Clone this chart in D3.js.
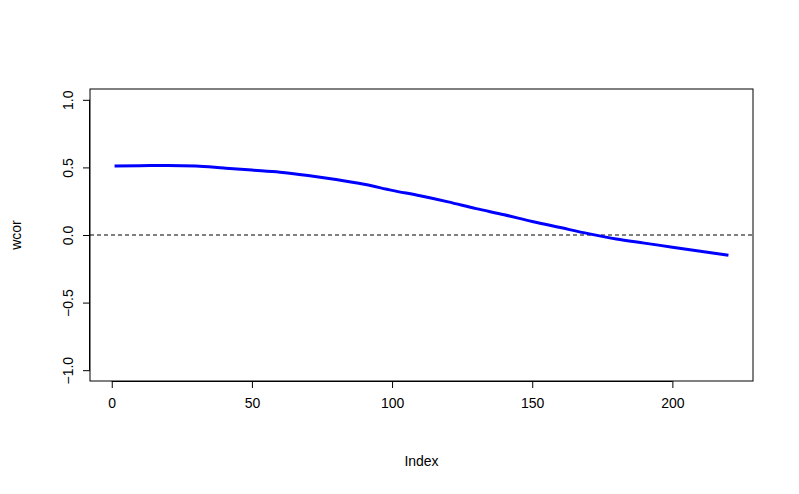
<!DOCTYPE html>
<html>
<head>
<meta charset="utf-8">
<script src="https://cdn.jsdelivr.net/npm/d3@7"></script>
<style>
  body { margin: 0; background: #fff; }
  text { font-family: "Liberation Sans", Arial, sans-serif; font-size: 14px; }
</style>
</head>
<body>
<script>
// Data (index, wcor)
var indexValues = [1, 10, 20, 30, 40, 50, 60, 70, 80, 90, 100, 110, 120, 130, 140, 150, 160, 170, 180, 190, 200, 210, 220]
var wcorValues = [0.51, 0.512, 0.515, 0.51, 0.495, 0.48, 0.465, 0.44, 0.41, 0.375, 0.33, 0.29, 0.245, 0.195, 0.15, 0.10, 0.055, 0.01, -0.03, -0.06, -0.09, -0.12, -0.15]
var xTicks = [0, 50, 100, 150, 200]
var yTicks = [-1.0, -0.5, 0.0, 0.5, 1.0]

var svgW = 799
var svgH = 494
var plotLeft = 90, plotRight = 753, plotTop = 89, plotBottom = 381

var data = indexValues.map(function(d, i) { return {x: d, y: wcorValues[i]} })

var xScale = d3.scaleLinear().domain([-7.76, 228.76]).range([plotLeft, plotRight])
var yScale = d3.scaleLinear().domain([-1.08, 1.08]).range([plotBottom, plotTop])

var svg = d3.select("body").append("svg")
            .attr("width", svgW)
            .attr("height", svgH)

// Plot box
svg.append("rect")
   .attr("x", plotLeft).attr("y", plotTop)
   .attr("width", plotRight - plotLeft).attr("height", plotBottom - plotTop)
   .style("fill", "none").style("stroke", "black")

// X axis
var xAxis = d3.axisBottom(xScale).tickValues(xTicks).tickSize(7).tickPadding(6)
var gx = svg.append("g")
   .attr("transform", "translate(0," + plotBottom + ")")
   .call(xAxis)
gx.select(".domain").attr("d", "M" + xScale(0) + ",0.5H" + xScale(200))
gx.selectAll("text").style("font-size", "14px").attr("dy", "1em")

// Y axis
var yAxis = d3.axisLeft(yScale).tickValues(yTicks).tickSize(7).tickPadding(6)
  .tickFormat(d3.format(".1f"))
var gy = svg.append("g")
   .attr("transform", "translate(" + plotLeft + ",0)")
   .call(yAxis)
gy.select(".domain").attr("d", "M-0.5," + yScale(-1) + "V" + yScale(1))
gy.selectAll("text")
  .style("font-size", "14px")
  .attr("text-anchor", "middle")
  .attr("x", 0).attr("y", 0).attr("dy", "0.35em")
  .attr("transform", "translate(-22,0) rotate(-90)")

// Zero line
svg.append("line")
   .attr("x1", plotLeft).attr("x2", plotRight)
   .attr("y1", yScale(0)).attr("y2", yScale(0))
   .style("stroke", "black").style("stroke-dasharray", "4,3")

// Curve
var line = d3.line()
   .x(function(d) { return xScale(d.x) })
   .y(function(d) { return yScale(d.y) })
   .curve(d3.curveMonotoneX)
svg.append("path")
   .datum(data)
   .attr("d", line)
   .style("fill", "none").style("stroke", "#0000ff").style("stroke-width", 3)

// Axis labels
svg.append("text")
   .attr("x", (plotLeft + plotRight) / 2).attr("y", 466)
   .style("text-anchor", "middle").text("Index")
svg.append("text")
   .attr("transform", "translate(21," + ((plotTop + plotBottom) / 2) + ") rotate(-90)")
   .style("text-anchor", "middle").text("wcor")
</script>
</body>
</html>
